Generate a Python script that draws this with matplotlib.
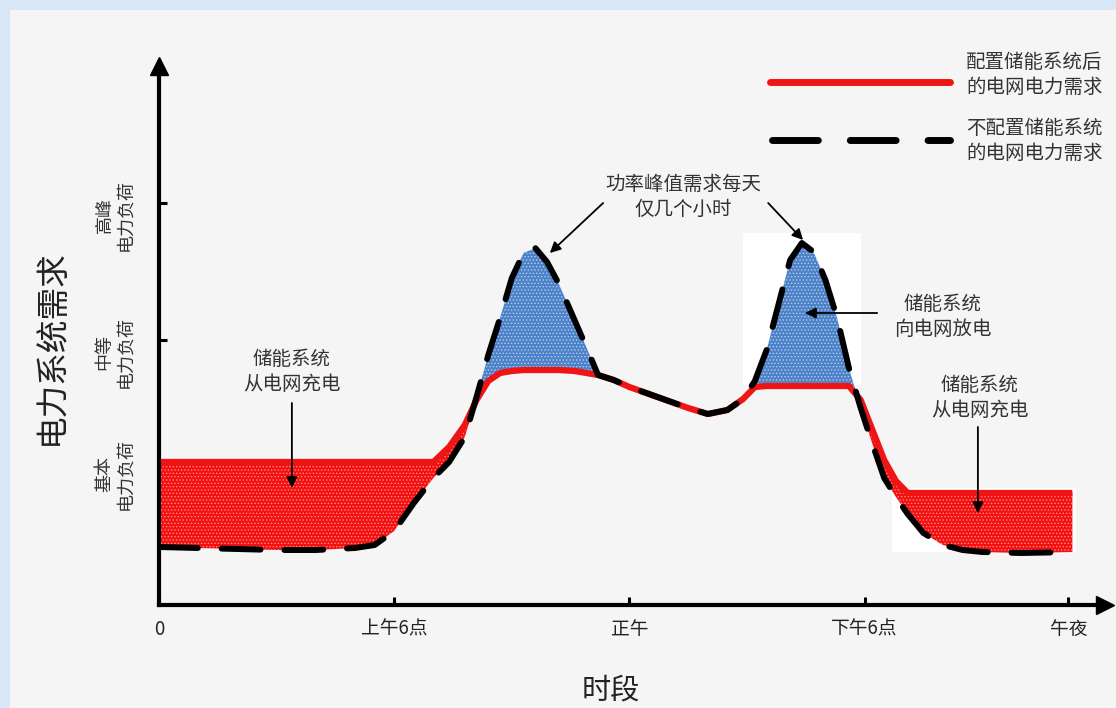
import matplotlib
matplotlib.use('Agg')
import matplotlib.pyplot as plt
from matplotlib.patches import Rectangle
from matplotlib.lines import Line2D
import numpy as np

plt.rcParams['font.family'] = ['Noto Sans CJK SC', 'DejaVu Sans']
plt.rcParams['hatch.linewidth'] = 0.6

# time of day (h) and grid load (arbitrary units)
hours = [0, 1, 2, 3, 4, 5, 5.5, 6.0, 6.5, 7.0, 7.4, 7.8, 8.1, 8.4, 8.7, 9.0, 9.3, 9.6,
         9.9, 10.2, 10.6, 10.9, 11.2, 11.6, 12.0, 12.5, 13.0, 13.5, 14.0, 14.5, 14.9,
         15.2, 15.5, 15.8, 16.1, 16.4, 16.7, 17.0, 17.3, 17.6, 17.9, 18.2, 18.5, 18.8,
         19.1, 19.5, 20.0, 20.5, 21.0, 22.0, 23.3]
with_storage = [14.3, 14.3, 14.3, 14.3, 14.3, 14.3, 14.3, 14.3, 14.3, 14.3, 15.8, 18.0,
                20.5, 22.4, 23.2, 23.4, 23.5, 23.5, 23.5, 23.5, 23.4, 23.2, 23.0, 22.5,
                21.8, 21.1, 20.4, 19.7, 19.1, 19.5, 20.6, 21.8, 21.9, 21.9, 21.9, 21.9,
                21.9, 21.9, 21.9, 21.9, 20.5, 17.5, 14.5, 12.4, 11.2, 11.2, 11.2, 11.2,
                11.2, 11.2, 11.2]
without_storage = [5.8, 5.7, 5.6, 5.5, 5.5, 5.7, 6.0, 7.4, 10.2, 12.7, 14.3, 16.8, 20.8,
                   25.0, 28.7, 32.7, 35.2, 35.7, 34.3, 32.1, 28.5, 25.8, 23.0, 22.5, 21.8,
                   21.1, 20.4, 19.7, 19.1, 19.5, 20.6, 22.4, 25.5, 30.0, 34.5, 36.2, 35.3,
                   32.5, 28.7, 23.7, 19.7, 16.1, 12.7, 10.8, 9.1, 7.2, 6.0, 5.5, 5.3, 5.2,
                   5.3]

tick_hours = [0, 6, 12, 18, 23.2]
tick_names = ['0', '上午6点', '正午', '下午6点', '午夜']
level_ticks = [14.3, 26.5, 40.2]
level_names = ['基本\n电力负荷', '中等\n电力负荷', '高峰\n电力负荷']

legend_names = ['配置储能系统后\n的电网电力需求', '不配置储能系统\n的电网电力需求']

h = np.array(hours)
ws = np.array(with_storage)
wo = np.array(without_storage)

W, H = 1116, 708
fig = plt.figure(figsize=(W / 100, H / 100), dpi=100, facecolor='#d8e7f5')
fig.patches.append(Rectangle((10 / W, 0), 1, 1 - 10 / H, transform=fig.transFigure,
                             facecolor='#f5f5f5', edgecolor='none', zorder=-1))

x0, x1 = 159, 1105
y0, y1 = 605, 66
ax = fig.add_axes([x0 / W, 1 - y0 / H, (x1 - x0) / W, (y0 - y1) / H])
ax.set_facecolor('none')
ax.set_xlim(0, (x1 - x0) / 39.2)
ax.set_ylim(0, (y0 - y1) / 10)

# light panels behind the evening peak and the night charging block
ax.add_patch(Rectangle((14.9, 22.0), 3.0, 15.2, facecolor='white', edgecolor='none', zorder=0.5))
ax.add_patch(Rectangle((18.7, 5.3), 4.7, 6.4, facecolor='white', edgecolor='none', zorder=0.5))

red = '#f01414'
ax.fill_between(h, wo, ws, where=ws > wo, interpolate=True, facecolor='#f21010',
                edgecolor='#ff8a8a', hatch='.....', linewidth=0, zorder=1)
ax.fill_between(h, ws, wo, where=wo > ws, interpolate=True, facecolor='#4d82c9',
                edgecolor='#b4cdee', hatch='.....', linewidth=0, zorder=1)

ax.plot(h, ws, color=red, lw=4.5, solid_joinstyle='round', solid_capstyle='butt', zorder=3)
ax.plot(h, wo, color='black', lw=4.3, dashes=(6.5, 4), dash_capstyle='round',
        dash_joinstyle='round', zorder=4)

for side in ['top', 'right']:
    ax.spines[side].set_visible(False)
for side in ['left', 'bottom']:
    ax.spines[side].set_linewidth(3)
    ax.spines[side].set_zorder(6)
ax.plot(1, 0, '>k', ms=13, transform=ax.transAxes, clip_on=False, zorder=6)
ax.plot(0, 1, '^k', ms=13, transform=ax.transAxes, clip_on=False, zorder=6)

ax.set_xticks(tick_hours)
ax.set_xticklabels(tick_names, fontsize=13.5, color='#222222')
ax.set_yticks(level_ticks)
ax.set_yticklabels([])
ax.tick_params(direction='in', length=6, width=2.2, color='black')
ax.tick_params(axis='x', pad=10)

for y, name in zip(level_ticks, level_names):
    ax.text(-44 / (x1 - x0), y - 1.2, name, transform=ax.get_yaxis_transform(),
            rotation=90, ha='center', va='center', multialignment='center',
            fontsize=13, color='#333333', linespacing=1.2)

fig.text(52 / W, 1 - 347 / H, '电力系统需求', rotation=90, ha='center', va='center',
         fontsize=23.5, color='#222222')
fig.text(611 / W, 1 - 690 / H, '时段', ha='center', va='center', fontsize=21,
         color='#222222')

txt = dict(ha='center', va='center', fontsize=14, color='#333333', linespacing=1.25)
arw = dict(arrowstyle='-|>', color='black', lw=1.3, mutation_scale=16, shrinkA=0, shrinkB=0)

ax.text(13.37, 40.8, '功率峰值需求每天\n仅几个小时', **txt)
ax.annotate('', xy=(9.97, 35.2), xytext=(11.33, 40.2), arrowprops=arw)
ax.annotate('', xy=(16.43, 36.5), xytext=(15.54, 40.2), arrowprops=arw)

ax.text(20.0, 28.8, '储能系统\n向电网放电', **txt)
ax.annotate('', xy=(16.48, 29.2), xytext=(18.32, 29.2), arrowprops=arw)

ax.text(3.39, 23.3, '储能系统\n从电网充电', **txt)
ax.annotate('', xy=(3.39, 11.7), xytext=(3.39, 20.2), arrowprops=arw)

ax.text(20.94, 20.7, '储能系统\n从电网充电', **txt)
ax.annotate('', xy=(20.89, 9.2), xytext=(20.89, 17.8), arrowprops=arw)

# legend drawn by hand in figure pixels
fig.add_artist(Line2D([770 / W, 950 / W], [1 - 82 / H, 1 - 82 / H], color=red, lw=5,
                      solid_capstyle='round'))
fig.add_artist(Line2D([772 / W, 950 / W], [1 - 140 / H, 1 - 140 / H], color='black', lw=5,
                      dashes=(6.6, 4.6), dash_capstyle='round'))
fig.text(966 / W, 1 - 75 / H, legend_names[0], ha='left', va='center', fontsize=14,
         color='#333333', linespacing=1.25)
fig.text(966 / W, 1 - 141 / H, legend_names[1], ha='left', va='center', fontsize=14,
         color='#333333', linespacing=1.25)

fig.savefig('out.png', dpi=100, facecolor=fig.get_facecolor())
